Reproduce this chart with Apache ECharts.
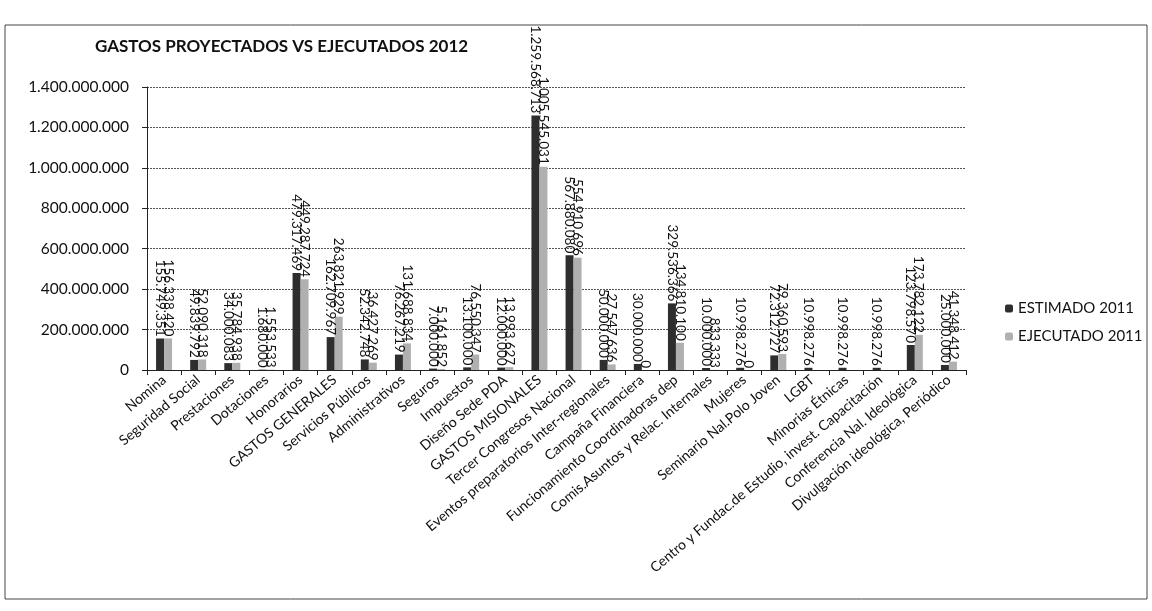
<!DOCTYPE html>
<html>
<head>
<meta charset="utf-8">
<script src="https://cdn.jsdelivr.net/npm/echarts@6/dist/echarts.min.js"></script>
<style>
  html, body { margin: 0; padding: 0; background: #fff; }
  #chart { width: 1152px; height: 611px; }
</style>
</head>
<body>
<div id="chart"></div>
<script>
// categorias del eje x
var categories = [
  'Nomina', 'Seguridad Social', 'Prestaciones', 'Dotaciones', 'Honorarios',
  'GASTOS GENERALES', 'Servicios Públicos', 'Administrativos', 'Seguros', 'Impuestos',
  'Diseño Sede PDA', 'GASTOS MISIONALES', 'Tercer Congresos Nacional',
  'Eventos preparatorios Inter-regionales', 'Campaña Financiera',
  'Funcionamiento Coordinadoras dep', 'Comis.Asuntos y Relac. Internales', 'Mujeres',
  'Seminario Nal.Polo Joven', 'LGBT', 'Minorias Étnicas',
  'Centro y Fundac.de Estudio, invest. Capacitación', 'Conferencia Nal. Ideológica',
  'Divulgación ideológica, Periódico'
]
var estimado = [
  155749351, 49839792, 34000083, 1680000, 479317469,
  162709967, 52342748, 76267219, 7000000, 13100000,
  12000000, 1259568713, 567880080,
  50000000, 30000000,
  329536366, 10000000, 10998276,
  72312727, 10998276, 10998276,
  10998276, 123798570,
  25000000
]
var ejecutado = [
  156338420, 52090318, 35784938, 1553533, 449287724,
  263821929, 36427269, 131688834, 5161852, 76550347,
  13993627, 1005545031, 554910696,
  27547636, 0,
  134810100, 833333, 0,
  79360593, null, null,
  null, 173782122,
  41348412
]
var seriesNames = ['ESTIMADO 2011', 'EJECUTADO 2011']

function miles(v) {
  if (v === null || v === undefined) return ''
  return String(Math.round(v)).replace(/\B(?=(\d{3})+(?!\d))/g, '.')
}

var fontFam = 'Lato, "Open Sans", sans-serif'
var labelCfg = {
  show: true,
  position: 'top',
  rotate: -90,
  align: 'right',
  verticalAlign: 'middle',
  distance: 2,
  color: '#111',
  fontSize: 13.5,
  fontFamily: fontFam,
  formatter: function (p) { return miles(p.value) }
}

var option = {
  animation: false,
  backgroundColor: '#fff',
  textStyle: { fontFamily: fontFam },
  title: {
    text: 'GASTOS PROYECTADOS VS EJECUTADOS 2012',
    left: 90, top: 33,
    textStyle: { fontSize: 17, fontWeight: 'bold', color: '#111', fontFamily: fontFam }
  },
  legend: {
    orient: 'vertical',
    left: 1000, top: 296,
    itemWidth: 8, itemHeight: 8, itemGap: 13,
    textStyle: { fontSize: 15, color: '#111', fontFamily: fontFam },
    data: seriesNames
  },
  graphic: [{
    type: 'rect',
    shape: { x: 5, y: 25, width: 1142, height: 574 },
    style: { fill: 'none', stroke: '#444', lineWidth: 1 },
    silent: true
  }],
  grid: { left: 147, right: 186, top: 87, bottom: 241, containLabel: false },
  xAxis: {
    type: 'category',
    data: categories,
    axisLine: { lineStyle: { color: '#222' } },
    axisTick: { show: true, alignWithLabel: false, lineStyle: { color: '#222' } },
    axisLabel: {
      interval: 0, rotate: 40, color: '#111', fontSize: 14, fontFamily: fontFam, margin: 8
    }
  },
  yAxis: {
    type: 'value',
    min: 0, max: 1400000000, interval: 200000000,
    axisLine: { show: true, lineStyle: { color: '#222' } },
    axisTick: { show: true, lineStyle: { color: '#222' } },
    axisLabel: {
      color: '#111', fontSize: 15.5, fontFamily: fontFam, margin: 18,
      formatter: function (v) { return miles(v) }
    },
    splitLine: { lineStyle: { color: '#555', type: [2, 1] } }
  },
  series: [{
    name: seriesNames[0],
    type: 'bar',
    data: estimado,
    barWidth: 8,
    barGap: '0%',
    itemStyle: { color: '#2e2e2e' },
    label: labelCfg
  }, {
    name: seriesNames[1],
    type: 'bar',
    data: ejecutado,
    barWidth: 8,
    itemStyle: { color: '#b0b0b0' },
    label: labelCfg
  }]
}

var chart = echarts.init(document.getElementById('chart'))
chart.setOption(option)
window.onresize = function () { chart.resize() }
</script>
</body>
</html>
